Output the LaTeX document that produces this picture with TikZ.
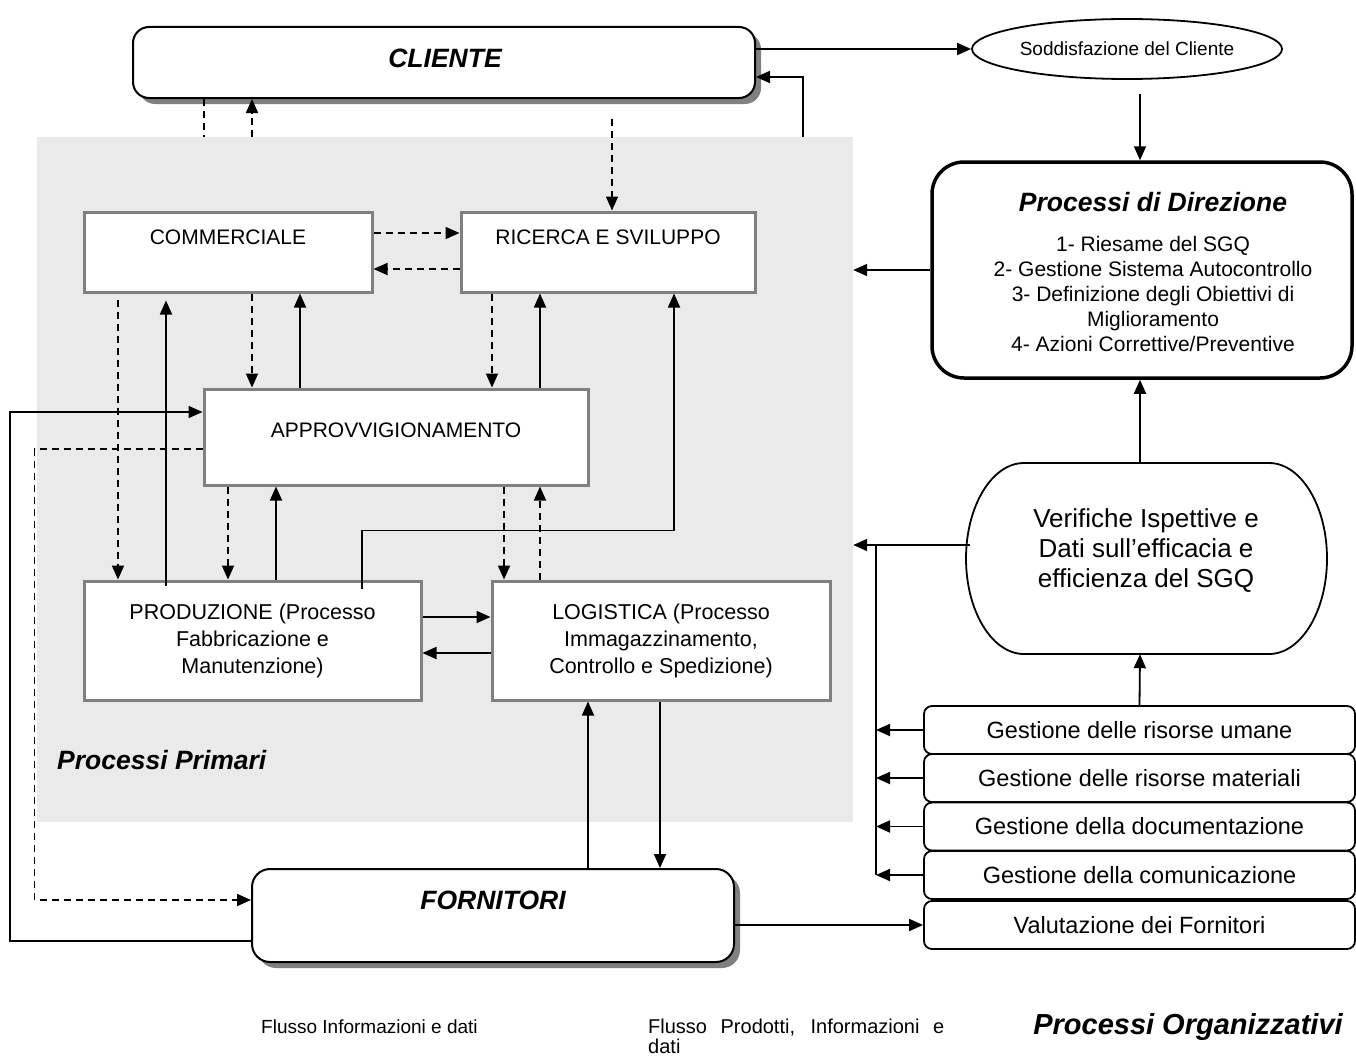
\documentclass[tikz,border=0pt]{standalone}
\usepackage{fontspec}
\setmainfont{Liberation Sans}
\usetikzlibrary{arrows.meta,shapes.geometric,shadows}
\definecolor{bggray}{HTML}{EAEAEA}
\definecolor{boxgray}{HTML}{808080}
\begin{document}
\begin{tikzpicture}[x=1pt,y=-1pt,
  arr/.style={-{Triangle[length=14pt,width=12pt]}, line width=1.8pt},
  darr/.style={arr, dash pattern=on 7pt off 5pt},
  dln/.style={line width=1.8pt, dash pattern=on 7pt off 5pt},
  ln/.style={line width=1.8pt},
  pbox/.style={draw=boxgray, line width=3pt, fill=white, inner sep=0pt},
  rbox/.style={draw, line width=2pt, fill=white, rounded corners=16pt, inner sep=0pt,
    drop shadow={shadow xshift=6pt, shadow yshift=-6pt, fill=boxgray, opacity=1}},
  gbox/.style={draw, line width=1.8pt, fill=white, rounded corners=8pt,
    minimum width=431pt, minimum height=48pt, inner sep=0pt,
    font=\fontsize{23.5}{28}\selectfont},
  ptxt/.style={inner sep=0pt, font=\fontsize{21}{25}\selectfont, align=center},
  ttl/.style={inner sep=0pt, font=\fontsize{26.5}{30}\selectfont\bfseries\itshape},
]
\useasboundingbox (0,0) rectangle (1356,1057);

% grey area of the primary processes
\node[fill=bggray, minimum width=816pt, minimum height=685pt, inner sep=0pt] (primari) at (445,479.5) {};

% boxes of the primary processes
\node[pbox, minimum width=288pt, minimum height=80pt] (comm) at (228,252) {};
\node[ptxt] (commT) at (228,237) {COMMERCIALE};
\node[pbox, minimum width=294pt, minimum height=80pt] (ric) at (608,252) {};
\node[ptxt] (ricT) at (608,237) {RICERCA E SVILUPPO};
\node[pbox, minimum width=384pt, minimum height=96pt] (appr) at (396,437) {};
\node[ptxt] (apprT) at (396,430) {APPROVVIGIONAMENTO};
\node[pbox, minimum width=337pt, minimum height=119pt, font=\fontsize{21.5}{27}\selectfont, align=center] (prod) at (252.5,640.5)
  {PRODUZIONE (Processo\\Fabbricazione e\\Manutenzione)};
\node[pbox, minimum width=338pt, minimum height=119pt, font=\fontsize{21.5}{27}\selectfont, align=center] (logi) at (661,640.5)
  {LOGISTICA (Processo\\Immagazzinamento,\\Controllo e Spedizione)};
\node[ttl, anchor=west] (primT) at (57,760) {Processi Primari};

% cliente and fornitori
\node[rbox, minimum width=622pt, minimum height=71pt] (cliente) at (444,62.5) {};
\node[ttl] (clienteT) at (445,58) {CLIENTE};
\node[rbox, minimum width=482pt, minimum height=93pt, rounded corners=18pt] (forn) at (493,915.5) {};
\node[ttl] (fornT) at (493,900) {FORNITORI};

% right hand side
\node[draw, ellipse, line width=1.8pt, minimum width=310pt, minimum height=60pt, inner sep=0pt,
  font=\fontsize{19}{22}\selectfont] (sodd) at (1127,49) {Soddisfazione del Cliente};
\node[draw, line width=3.5pt, fill=white, rounded corners=32pt, minimum width=420pt, minimum height=216pt] (dir) at (1142,270) {};
\node[ptxt, font=\fontsize{21}{25}\selectfont] (dirT) at (1153,272)
  {{\fontsize{26.5}{30}\selectfont\bfseries\itshape Processi di Direzione}\\[15pt]
   1- Riesame del SGQ\\2- Gestione Sistema Autocontrollo\\3- Definizione degli Obiettivi di\\Miglioramento\\4- Azioni Correttive/Preventive};

\node[minimum width=361pt, minimum height=191pt, inner sep=0pt] (verif) at (1146.5,558.5) {};
\draw[line width=1.8pt, fill=white]
  (1024,463) -- (1269,463)
  .. controls (1301,463) and (1327,506) .. (1327,558.5)
  .. controls (1327,611) and (1301,654) .. (1269,654)
  -- (1024,654)
  .. controls (992,654) and (966,611) .. (966,558.5)
  .. controls (966,506) and (992,463) .. (1024,463) -- cycle;
\node[ptxt, font=\fontsize{26}{30}\selectfont] (verifT) at (1146,551)
  {Verifiche Ispettive e\\Dati sull’efficacia e\\efficienza del SGQ};

\node[gbox] (g1) at (1139.5,730) {Gestione delle risorse umane};
\node[gbox] (g2) at (1139.5,778) {Gestione delle risorse materiali};
\node[gbox] (g3) at (1139.5,826.5) {Gestione della documentazione};
\node[gbox] (g4) at (1139.5,875) {Gestione della comunicazione};
\node[gbox] (g5) at (1139.5,925) {Valutazione dei Fornitori};

% legend
\node[inner sep=0pt, anchor=west, font=\fontsize{19}{20}\selectfont] (leg1) at (261,1027) {Flusso Informazioni e dati};
\node[inner sep=0pt, anchor=north west, align=left, font=\fontsize{20}{20}\selectfont] (leg2) at (648,1019)
  {\makebox[296pt][s]{Flusso Prodotti, Informazioni e}\\dati};
\node[inner sep=0pt, font=\fontsize{29}{32}\selectfont\bfseries\itshape] (orgT) at (1188,1027) {Processi Organizzativi};

% ---------- connectors ----------
% cliente <-> soddisfazione / primari
\draw[arr] (cliente.east |- sodd.west) -- (sodd.west);
\draw[arr] ([xshift=358pt]primari.north) |- ([yshift=-14.5pt]cliente.east);
\draw[dln] ([xshift=-240pt]cliente.south) -- ([xshift=-241pt]primari.north);
\draw[darr] ([xshift=-193pt]primari.north) -- ([xshift=-192pt]cliente.south);
\draw[darr] ([xshift=168pt,yshift=-20pt]cliente.south) -- ([xshift=4pt]ric.north);

% direzione
\draw[arr] ([xshift=13pt,yshift=-14pt]sodd.south) -- ([xshift=-2pt]dir.north);
\draw[arr] (dir.west) -- (dir.west -| primari.east);
\draw[arr] ([xshift=-6.5pt]verif.north) -- ([xshift=-2pt]dir.south);
\draw[arr] (g1.north) -- ([xshift=-6.5pt]verif.south);

% verifiche and organisational bus
\coordinate (vw) at ([xshift=4pt,yshift=13.5pt]verif.west);
\coordinate (bustop) at (876,545);
\coordinate (busbot) at (876,875);
\draw[arr] (vw) -- (vw -| primari.east);
\draw[ln] (bustop) -- (busbot);
\draw[arr] (g1.west) -- (g1.west -| bustop);
\draw[arr] (g2.west) -- (g2.west -| bustop);
\draw[arr] (g3.west) -- (g3.west -| bustop);
\draw[arr] (g4.west) -- (g4.west -| bustop);
\draw[arr] (forn.east |- g5.west) -- (g5.west);

% fornitori
\draw[arr] ([xshift=95pt]forn.north) -- ([xshift=-73pt]logi.south);
\draw[arr] ([xshift=-1pt]logi.south) -- ([xshift=167pt]forn.north);
\draw[arr] ([yshift=-25.5pt]forn.west) -- ++(-241,0) |- ([yshift=25pt]appr.west);
\draw[darr] ([yshift=-12pt]appr.west) -- ++(-168,0) |- ([yshift=15.5pt]forn.west);

% commerciale <-> ricerca
\draw[darr] ([yshift=19pt]comm.east) -- ([yshift=19pt]ric.west);
\draw[darr] ([yshift=-17pt]ric.west) -- ([yshift=-17pt]comm.east);

% commerciale bottom
\draw[darr] ([xshift=-110pt,yshift=-6pt]comm.south) -- ([xshift=-134.5pt]prod.north);
\draw[arr] ([xshift=-86.5pt,yshift=-6pt]prod.north) -- ([xshift=-62pt,yshift=-7pt]comm.south);
\draw[darr] ([xshift=24pt]comm.south) -- ([xshift=-144pt]appr.north);
\draw[arr] ([xshift=-96pt]appr.north) -- ([xshift=72pt]comm.south);

% ricerca bottom
\draw[darr] ([xshift=-116pt]ric.south) -- ([xshift=96pt]appr.north);
\draw[arr] ([xshift=144pt]appr.north) -- ([xshift=-68pt]ric.south);
\draw[arr] ([xshift=109.5pt,yshift=-9pt]prod.north) -- ++(0,-58) -- ++(312,0) -- ([xshift=66pt]ric.south);

% approvvigionamento bottom
\draw[darr] ([xshift=-168pt]appr.south) -- ([xshift=-24.5pt]prod.north);
\draw[arr] ([xshift=23.5pt]prod.north) -- ([xshift=-120pt]appr.south);
\draw[darr] ([xshift=108pt]appr.south) -- ([xshift=-157pt]logi.north);
\draw[darr] ([xshift=-121pt]logi.north) -- ([xshift=144pt]appr.south);

% produzione <-> logistica
\draw[arr] ([yshift=23.5pt]prod.east) -- ([yshift=23.5pt]logi.west);
\draw[arr] ([yshift=-12.5pt]logi.west) -- ([yshift=-12.5pt]prod.east);
\end{tikzpicture}
\end{document}
